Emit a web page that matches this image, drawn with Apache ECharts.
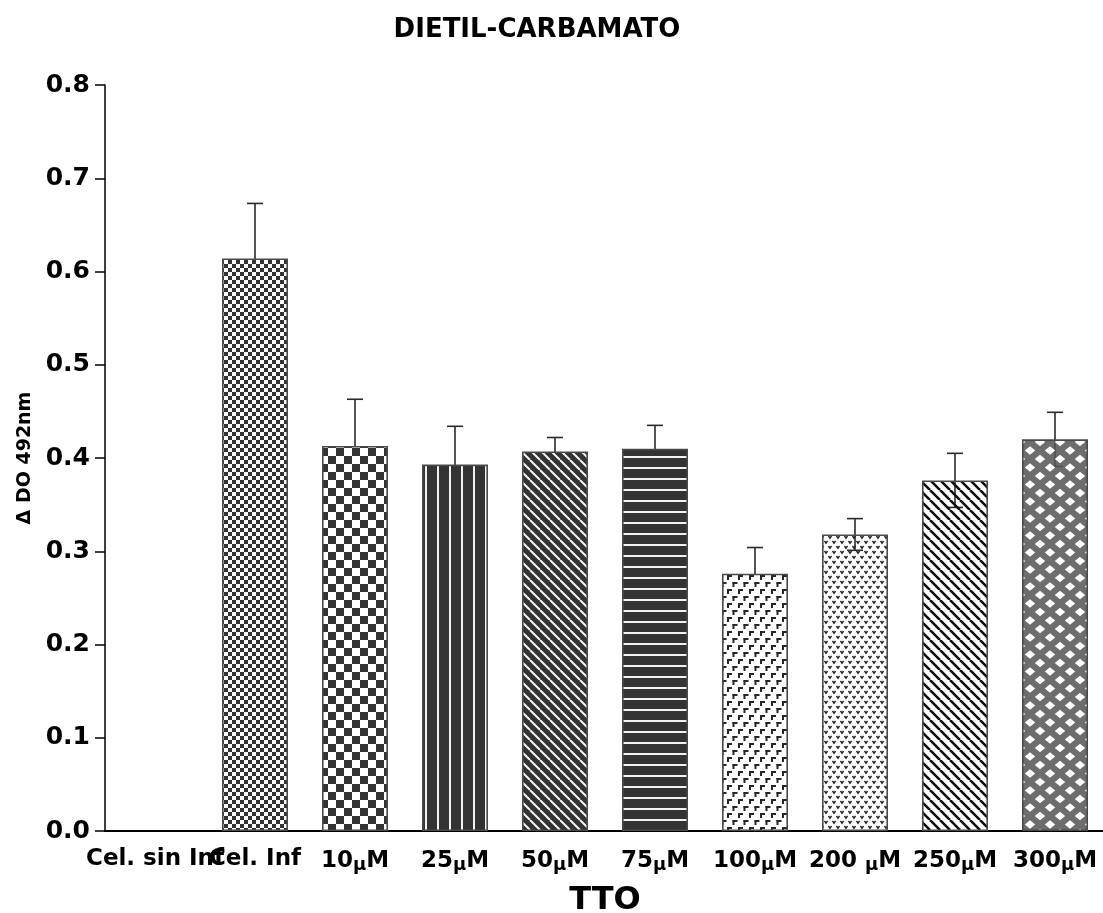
<!DOCTYPE html>
<html>
<head>
<meta charset="utf-8">
<script src="https://cdn.jsdelivr.net/npm/echarts@6/dist/echarts.min.js"></script>
<style>
  html, body { margin: 0; padding: 0; background: #fff; }
  #chart { width: 1103px; height: 913px; }
</style>
</head>
<body>
<div id="chart"></div>
<script>
// Treatment groups along the x axis ("μ" is set apart so it can be styled)
const categories = ['Cel. sin Inf', 'Cel. Inf', '10{u|μ}M', '25{u|μ}M', '50{u|μ}M', '75{u|μ}M', '100{u|μ}M', '200 {u|μ}M', '250{u|μ}M', '300{u|μ}M'];
// Mean ΔDO at 492 nm for each group
const means = [0, 0.614, 0.413, 0.393, 0.407, 0.410, 0.276, 0.318, 0.376, 0.420];
// Error (half-width) for each group
const errors = [0, 0.059, 0.050, 0.041, 0.015, 0.025, 0.028, 0.017, 0.029, 0.029];
// Fill pattern used for each bar
const fills = ['none', 'fineChecker', 'checker', 'vlines', 'diagWhite', 'hlines', 'gamma', 'vees', 'diagBlack', 'diamonds'];
// Y axis ticks
const yTicks = { min: 0, max: 0.8, step: 0.1 };

const DARK = '#333333';

function tile(w, h, draw) {
  const c = document.createElement('canvas');
  c.width = w; c.height = h;
  const g = c.getContext('2d');
  draw(g, w, h);
  return { image: c, repeat: 'repeat' };
}

function makeFill(kind) {
  switch (kind) {
    case 'fineChecker':
      return tile(8, 8, (g) => {
        g.fillStyle = '#fff'; g.fillRect(0, 0, 8, 8);
        g.fillStyle = DARK; g.fillRect(0, 0, 4, 4); g.fillRect(4, 4, 4, 4);
      });
    case 'checker':
      return tile(16, 16, (g) => {
        g.fillStyle = '#fff'; g.fillRect(0, 0, 16, 16);
        g.fillStyle = DARK; g.fillRect(0, 0, 8, 8); g.fillRect(8, 8, 8, 8);
      });
    case 'vlines':
      return tile(12, 12, (g) => {
        g.fillStyle = DARK; g.fillRect(0, 0, 12, 12);
        g.fillStyle = '#f2f2f2'; g.fillRect(5, 0, 2, 12);
      });
    case 'hlines':
      return tile(11, 11, (g) => {
        g.fillStyle = DARK; g.fillRect(0, 0, 11, 11);
        g.fillStyle = '#f2f2f2'; g.fillRect(0, 5, 11, 2);
      });
    case 'diagWhite':
      return tile(10, 10, (g, s) => {
        g.fillStyle = DARK; g.fillRect(0, 0, s, s);
        g.strokeStyle = '#f5f5f5'; g.lineWidth = 2;
        g.beginPath();
        for (const k of [-s, 0, s]) { g.moveTo(k, 0); g.lineTo(k + s, s); }
        g.stroke();
      });
    case 'diagBlack':
      return tile(10, 10, (g, s) => {
        g.strokeStyle = '#111'; g.lineWidth = 2.6;
        g.beginPath();
        for (const k of [-s, 0, s]) { g.moveTo(k, 0); g.lineTo(k + s, s); }
        g.stroke();
      });
    case 'gamma':
      return tile(11, 14, (g) => {
        g.fillStyle = '#fff'; g.fillRect(0, 0, 11, 14);
        g.fillStyle = '#262626';
        // two offset rows of small corner glyphs
        g.fillRect(1, 1, 5, 2); g.fillRect(1, 1, 2, 5);
        g.fillRect(6.5, 8, 4.5, 2); g.fillRect(6.5, 8, 2, 5); g.fillRect(0, 8, 0.5, 2);
      });
    case 'vees':
      return tile(8, 10, (g) => {
        g.strokeStyle = '#222'; g.lineWidth = 1.4;
        g.beginPath();
        g.moveTo(0.5, 1); g.lineTo(2, 3.2); g.lineTo(3.5, 1);
        g.moveTo(4.5, 6); g.lineTo(6, 8.2); g.lineTo(7.5, 6);
        g.stroke();
      });
    case 'diamonds':
      return tile(20, 17, (g) => {
        g.fillStyle = 'rgba(85,85,85,0.86)'; g.fillRect(0, 0, 20, 17);
        g.fillStyle = '#ffffff';
        const dia = (cx, cy) => {
          g.beginPath();
          g.moveTo(cx, cy - 4.2); g.lineTo(cx + 5.2, cy); g.lineTo(cx, cy + 4.2); g.lineTo(cx - 5.2, cy);
          g.closePath(); g.fill();
        };
        dia(10, 8.5);
        dia(0, 0); dia(20, 0); dia(0, 17); dia(20, 17);
      });
    default:
      return 'rgba(0,0,0,0)';
  }
}

const barData = means.map((v, i) => ({
  value: v,
  itemStyle: {
    color: makeFill(fills[i]),
    borderColor: v === 0 ? 'rgba(0,0,0,0)' : '#4a4a4a',
    borderWidth: 1.6
  }
}));

const errData = means.map((v, i) => [i, v - errors[i], v + errors[i]]);

const chart = echarts.init(document.getElementById('chart'), null, { renderer: 'canvas' });

const FONT = 'DejaVu Sans';

chart.setOption({
  backgroundColor: '#ffffff',
  animation: false,
  title: {
    text: 'DIETIL-CARBAMATO',
    left: 532,
    textAlign: 'center',
    top: 12,
    textStyle: { fontFamily: FONT, fontWeight: 'bold', fontSize: 26, color: '#000' }
  },
  grid: { left: 105, top: 85, width: 1000, height: 746, containLabel: false, outerBoundsMode: 'none' },
  xAxis: {
    type: 'category',
    data: categories,
    boundaryGap: true,
    name: 'TTO',
    nameLocation: 'middle',
    nameGap: 54,
    nameTextStyle: { fontFamily: FONT, fontWeight: 'bold', fontSize: 32, color: '#000' },
    axisLine: { lineStyle: { color: '#000', width: 2 } },
    axisTick: { alignWithLabel: true, length: 9, lineStyle: { color: '#000', width: 1.5 } },
    axisLabel: {
      interval: 0,
      hideOverlap: false,
      margin: 17,
      fontFamily: FONT, fontWeight: 'bold', fontSize: 23, color: '#000',
      rich: {
        u: { fontFamily: 'DejaVu Sans', fontSize: 18, color: '#000', padding: [8, 0, 0, 0] }
      }
    }
  },
  yAxis: {
    type: 'value',
    min: yTicks.min,
    max: yTicks.max,
    interval: yTicks.step,
    name: 'Δ DO 492nm',
    nameLocation: 'middle',
    nameGap: 68,
    nameTextStyle: { fontFamily: FONT, fontWeight: 'bold', fontSize: 19, color: '#000' },
    splitLine: { show: false },
    axisLine: { show: true, lineStyle: { color: '#000', width: 1.5 } },
    axisTick: { show: true, length: 10, lineStyle: { color: '#000', width: 1.5 } },
    axisLabel: {
      margin: 15,
      formatter: (v) => v.toFixed(1),
      fontFamily: FONT, fontWeight: 'bold', fontSize: 25, color: '#000'
    }
  },
  series: [
    {
      // error bars sit under the bars; only light fills let the lower half show
      type: 'custom',
      z: 1,
      data: errData,
      renderItem: (params, api) => {
        if (means[api.value(0)] === 0) return null;
        const lo = api.coord([api.value(0), api.value(1)]);
        const hi = api.coord([api.value(0), api.value(2)]);
        const x = hi[0];
        const cap = 8;
        const style = { stroke: '#2a2a2a', lineWidth: 1.6 };
        return {
          type: 'group',
          children: [
            { type: 'line', shape: { x1: x, y1: lo[1], x2: x, y2: hi[1] }, style },
            { type: 'line', shape: { x1: x - cap, y1: hi[1], x2: x + cap, y2: hi[1] }, style },
            { type: 'line', shape: { x1: x - cap, y1: lo[1], x2: x + cap, y2: lo[1] }, style }
          ]
        };
      }
    },
    {
      type: 'bar',
      z: 2,
      barWidth: 66,
      data: barData
    }
  ]
});
</script>
</body>
</html>
